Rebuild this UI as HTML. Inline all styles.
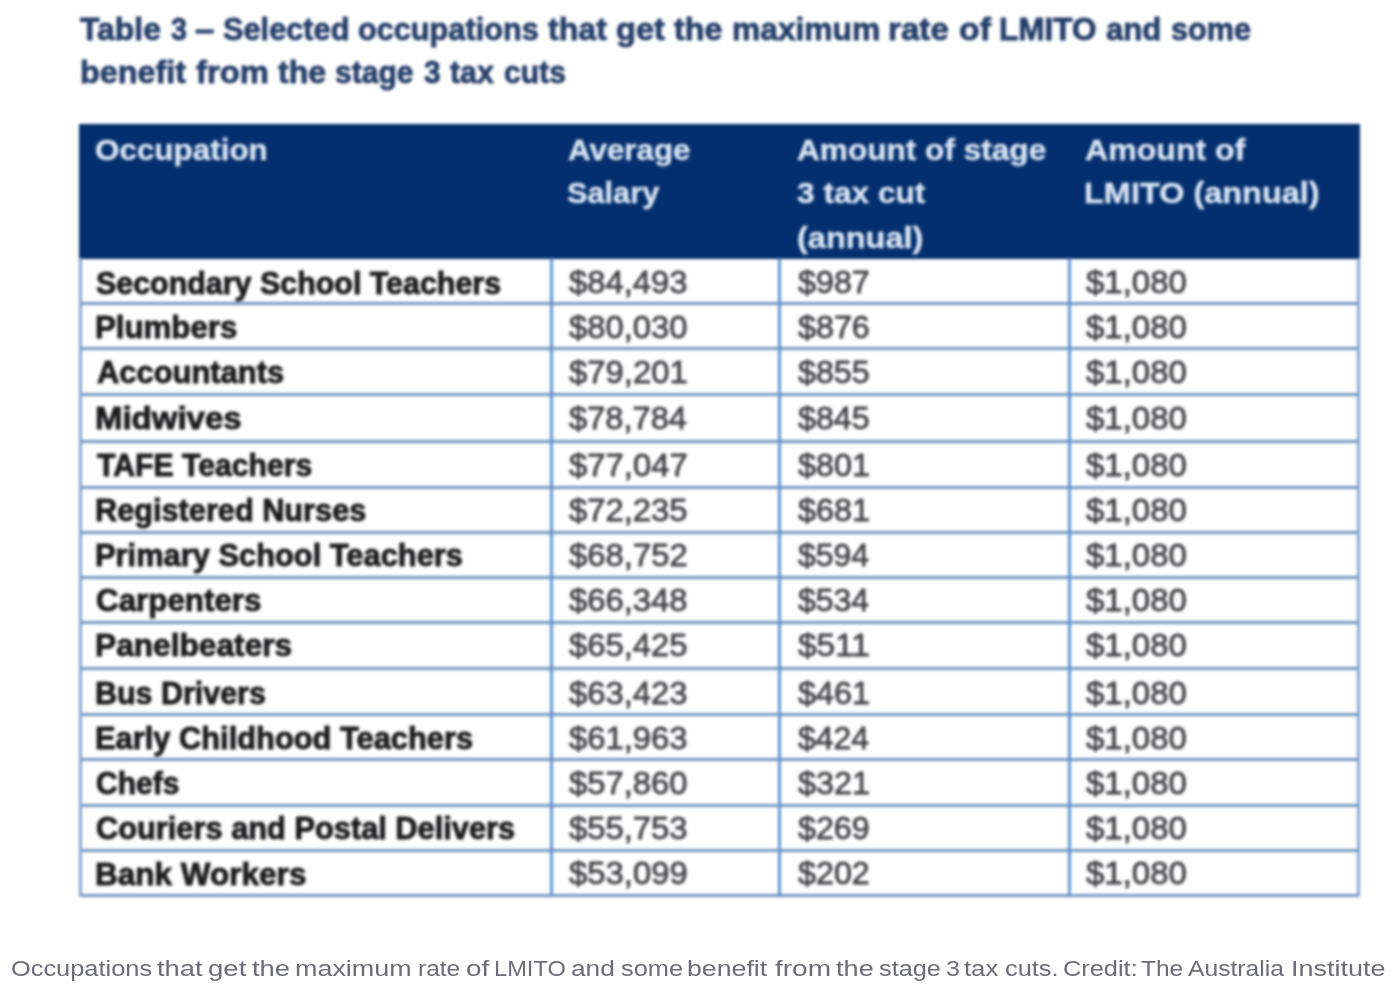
<!DOCTYPE html>
<html><head><meta charset="utf-8"><title>Table 3</title>
<style>
html,body{margin:0;padding:0;background:#fff;}
body{width:1400px;height:990px;position:relative;overflow:hidden;font-family:"Liberation Sans",sans-serif;}
#img{position:absolute;left:0;top:0;width:1400px;height:925px;filter:blur(1.4px);}
#cap{position:absolute;left:0;top:0;width:1400px;height:990px;}
.t{position:absolute;white-space:nowrap;line-height:1;transform-origin:0 0;margin:0;padding:0;}
.b{font-weight:bold;}
.hd{position:absolute;background:#032f6e;}
.ln{position:absolute;background:#6f93bd;}
.lv{position:absolute;background:#5f93d4;}
.lo{position:absolute;background:#82a4cf;}
</style></head><body>
<div id="img"><div class="hd" style="left:78.7px;top:124.0px;width:1281.1px;height:135.0px"></div>
<div class="ln" style="left:78.7px;top:301.5px;width:1281.1px;height:3.0px"></div>
<div class="ln" style="left:78.7px;top:347.0px;width:1281.1px;height:3.0px"></div>
<div class="ln" style="left:78.7px;top:392.5px;width:1281.1px;height:3.0px"></div>
<div class="ln" style="left:78.7px;top:439.5px;width:1281.1px;height:3.0px"></div>
<div class="ln" style="left:78.7px;top:485.5px;width:1281.1px;height:3.0px"></div>
<div class="ln" style="left:78.7px;top:530.5px;width:1281.1px;height:3.0px"></div>
<div class="ln" style="left:78.7px;top:575.5px;width:1281.1px;height:3.0px"></div>
<div class="ln" style="left:78.7px;top:620.5px;width:1281.1px;height:3.0px"></div>
<div class="ln" style="left:78.7px;top:667.0px;width:1281.1px;height:3.0px"></div>
<div class="ln" style="left:78.7px;top:713.0px;width:1281.1px;height:3.0px"></div>
<div class="ln" style="left:78.7px;top:758.0px;width:1281.1px;height:3.0px"></div>
<div class="ln" style="left:78.7px;top:803.5px;width:1281.1px;height:3.0px"></div>
<div class="ln" style="left:78.7px;top:848.8px;width:1281.1px;height:3.0px"></div>
<div class="ln" style="left:78.7px;top:893.8px;width:1281.1px;height:3.0px"></div>
<div class="lo" style="left:78.7px;top:258.0px;width:3.0px;height:638.8px"></div>
<div class="lv" style="left:550.2px;top:258.0px;width:3.0px;height:638.8px"></div>
<div class="lv" style="left:778.3px;top:258.0px;width:3.0px;height:638.8px"></div>
<div class="lv" style="left:1068.1px;top:258.0px;width:3.0px;height:638.8px"></div>
<div class="lo" style="left:1356.8px;top:258.0px;width:3.0px;height:638.8px"></div>
<div class="t b" id="t0" style="left:79.78px;top:13.76px;font-size:31.00px;color:#253d68;-webkit-text-stroke-width:0.80px;transform:scaleX(1.0294)">Table</div>
<div class="t b" id="t1" style="left:170.92px;top:13.76px;font-size:31.00px;color:#253d68;-webkit-text-stroke-width:0.80px;transform:scaleX(0.9266)">3</div>
<div class="t b" id="t2" style="left:195.40px;top:13.76px;font-size:31.00px;color:#253d68;-webkit-text-stroke-width:0.80px;transform:scaleX(1.1211)">–</div>
<div class="t b" id="t3" style="left:223.44px;top:13.76px;font-size:31.00px;color:#253d68;-webkit-text-stroke-width:0.80px;transform:scaleX(0.9913)">Selected</div>
<div class="t b" id="t4" style="left:357.87px;top:13.76px;font-size:31.00px;color:#253d68;-webkit-text-stroke-width:0.80px;transform:scaleX(0.9898)">occupations</div>
<div class="t b" id="t5" style="left:547.69px;top:13.76px;font-size:31.00px;color:#253d68;-webkit-text-stroke-width:0.80px;transform:scaleX(1.0370)">that</div>
<div class="t b" id="t6" style="left:615.66px;top:13.76px;font-size:31.00px;color:#253d68;-webkit-text-stroke-width:0.80px;transform:scaleX(1.0535)">get</div>
<div class="t b" id="t7" style="left:673.89px;top:13.76px;font-size:31.00px;color:#253d68;-webkit-text-stroke-width:0.80px;transform:scaleX(1.0387)">the</div>
<div class="t b" id="t8" style="left:732.16px;top:13.76px;font-size:31.00px;color:#253d68;-webkit-text-stroke-width:0.80px;transform:scaleX(1.0240)">maximum</div>
<div class="t b" id="t9" style="left:888.47px;top:13.76px;font-size:31.00px;color:#253d68;-webkit-text-stroke-width:0.80px;transform:scaleX(1.0698)">rate</div>
<div class="t b" id="t10" style="left:958.92px;top:13.76px;font-size:31.00px;color:#253d68;-webkit-text-stroke-width:0.80px;transform:scaleX(1.0905)">of</div>
<div class="t b" id="t11" style="left:999.18px;top:13.76px;font-size:31.00px;color:#253d68;-webkit-text-stroke-width:0.80px;transform:scaleX(1.0163)">LMITO</div>
<div class="t b" id="t12" style="left:1105.59px;top:13.76px;font-size:31.00px;color:#253d68;-webkit-text-stroke-width:0.80px;transform:scaleX(1.0045)">and</div>
<div class="t b" id="t13" style="left:1171.01px;top:13.76px;font-size:31.00px;color:#253d68;-webkit-text-stroke-width:0.80px;transform:scaleX(0.9876)">some</div>
<div class="t b" id="t14" style="left:80.06px;top:56.76px;font-size:31.00px;color:#253d68;-webkit-text-stroke-width:0.80px;transform:scaleX(1.0421)">benefit</div>
<div class="t b" id="t15" style="left:195.65px;top:56.76px;font-size:31.00px;color:#253d68;-webkit-text-stroke-width:0.80px;transform:scaleX(1.0571)">from</div>
<div class="t b" id="t16" style="left:277.68px;top:56.76px;font-size:31.00px;color:#253d68;-webkit-text-stroke-width:0.80px;transform:scaleX(1.0328)">the</div>
<div class="t b" id="t17" style="left:334.86px;top:56.76px;font-size:31.00px;color:#253d68;-webkit-text-stroke-width:0.80px;transform:scaleX(0.9693)">stage</div>
<div class="t b" id="t18" style="left:423.74px;top:56.76px;font-size:31.00px;color:#253d68;-webkit-text-stroke-width:0.80px;transform:scaleX(0.9647)">3</div>
<div class="t b" id="t19" style="left:449.66px;top:56.76px;font-size:31.00px;color:#253d68;-webkit-text-stroke-width:0.80px;transform:scaleX(0.9803)">tax</div>
<div class="t b" id="t20" style="left:503.69px;top:56.76px;font-size:31.00px;color:#253d68;-webkit-text-stroke-width:0.80px;transform:scaleX(0.9717)">cuts</div>
<div class="t b" id="t21" style="left:95.29px;top:135.03px;font-size:29.50px;color:#d9e5f5;-webkit-text-stroke-width:0.40px;transform:scaleX(1.0647)">Occupation</div>
<div class="t b" id="t22" style="left:567.91px;top:135.03px;font-size:29.50px;color:#d9e5f5;-webkit-text-stroke-width:0.40px;transform:scaleX(1.0625)">Average</div>
<div class="t b" id="t23" style="left:567.38px;top:178.03px;font-size:29.50px;color:#d9e5f5;-webkit-text-stroke-width:0.40px;transform:scaleX(1.0416)">Salary</div>
<div class="t b" id="t24" style="left:796.87px;top:135.03px;font-size:29.50px;color:#d9e5f5;-webkit-text-stroke-width:0.40px;transform:scaleX(1.0710)">Amount of stage</div>
<div class="t b" id="t25" style="left:797.31px;top:178.03px;font-size:29.50px;color:#d9e5f5;-webkit-text-stroke-width:0.40px;transform:scaleX(1.0724)">3 tax cut</div>
<div class="t b" id="t26" style="left:796.65px;top:223.03px;font-size:29.50px;color:#d9e5f5;-webkit-text-stroke-width:0.40px;transform:scaleX(1.1015)">(annual)</div>
<div class="t b" id="t27" style="left:1084.84px;top:135.03px;font-size:29.50px;color:#d9e5f5;-webkit-text-stroke-width:0.40px;transform:scaleX(1.0874)">Amount of</div>
<div class="t b" id="t28" style="left:1083.60px;top:178.03px;font-size:29.50px;color:#d9e5f5;-webkit-text-stroke-width:0.40px;transform:scaleX(1.1006)">LMITO (annual)</div>
<div class="t b" id="t29" style="left:96.44px;top:267.58px;font-size:30.50px;color:#1b1b1d;-webkit-text-stroke-width:0.90px;transform:scaleX(0.9971)">Secondary School Teachers</div>
<div class="t" id="t30" style="left:568.63px;top:267.16px;font-size:31.00px;color:#454549;-webkit-text-stroke-width:0.80px;transform:scaleX(1.0582)">$84,493</div>
<div class="t" id="t31" style="left:797.64px;top:267.16px;font-size:31.00px;color:#454549;-webkit-text-stroke-width:0.80px;transform:scaleX(1.0407)">$987</div>
<div class="t" id="t32" style="left:1085.82px;top:267.16px;font-size:31.00px;color:#454549;-webkit-text-stroke-width:0.80px;transform:scaleX(1.0636)">$1,080</div>
<div class="t b" id="t33" style="left:95.11px;top:312.18px;font-size:30.50px;color:#1b1b1d;-webkit-text-stroke-width:0.90px;transform:scaleX(1.0242)">Plumbers</div>
<div class="t" id="t34" style="left:568.63px;top:311.76px;font-size:31.00px;color:#454549;-webkit-text-stroke-width:0.80px;transform:scaleX(1.0568)">$80,030</div>
<div class="t" id="t35" style="left:797.63px;top:311.76px;font-size:31.00px;color:#454549;-webkit-text-stroke-width:0.80px;transform:scaleX(1.0406)">$876</div>
<div class="t" id="t36" style="left:1085.82px;top:311.76px;font-size:31.00px;color:#454549;-webkit-text-stroke-width:0.80px;transform:scaleX(1.0636)">$1,080</div>
<div class="t b" id="t37" style="left:96.64px;top:357.18px;font-size:30.50px;color:#1b1b1d;-webkit-text-stroke-width:0.90px;transform:scaleX(1.0132)">Accountants</div>
<div class="t" id="t38" style="left:568.63px;top:356.76px;font-size:31.00px;color:#454549;-webkit-text-stroke-width:0.80px;transform:scaleX(1.0598)">$79,201</div>
<div class="t" id="t39" style="left:797.64px;top:356.76px;font-size:31.00px;color:#454549;-webkit-text-stroke-width:0.80px;transform:scaleX(1.0387)">$855</div>
<div class="t" id="t40" style="left:1085.82px;top:356.76px;font-size:31.00px;color:#454549;-webkit-text-stroke-width:0.80px;transform:scaleX(1.0636)">$1,080</div>
<div class="t b" id="t41" style="left:94.87px;top:402.98px;font-size:30.50px;color:#1b1b1d;-webkit-text-stroke-width:0.90px;transform:scaleX(1.0808)">Midwives</div>
<div class="t" id="t42" style="left:568.64px;top:402.56px;font-size:31.00px;color:#454549;-webkit-text-stroke-width:0.80px;transform:scaleX(1.0531)">$78,784</div>
<div class="t" id="t43" style="left:797.64px;top:402.56px;font-size:31.00px;color:#454549;-webkit-text-stroke-width:0.80px;transform:scaleX(1.0387)">$845</div>
<div class="t" id="t44" style="left:1085.82px;top:402.56px;font-size:31.00px;color:#454549;-webkit-text-stroke-width:0.80px;transform:scaleX(1.0636)">$1,080</div>
<div class="t b" id="t45" style="left:96.80px;top:450.18px;font-size:30.50px;color:#1b1b1d;-webkit-text-stroke-width:0.90px;transform:scaleX(0.9902)">TAFE Teachers</div>
<div class="t" id="t46" style="left:568.63px;top:449.76px;font-size:31.00px;color:#454549;-webkit-text-stroke-width:0.80px;transform:scaleX(1.0587)">$77,047</div>
<div class="t" id="t47" style="left:797.63px;top:449.76px;font-size:31.00px;color:#454549;-webkit-text-stroke-width:0.80px;transform:scaleX(1.0420)">$801</div>
<div class="t" id="t48" style="left:1085.82px;top:449.76px;font-size:31.00px;color:#454549;-webkit-text-stroke-width:0.80px;transform:scaleX(1.0636)">$1,080</div>
<div class="t b" id="t49" style="left:95.23px;top:495.18px;font-size:30.50px;color:#1b1b1d;-webkit-text-stroke-width:0.90px;transform:scaleX(1.0065)">Registered Nurses</div>
<div class="t" id="t50" style="left:568.63px;top:494.76px;font-size:31.00px;color:#454549;-webkit-text-stroke-width:0.80px;transform:scaleX(1.0581)">$72,235</div>
<div class="t" id="t51" style="left:797.63px;top:494.76px;font-size:31.00px;color:#454549;-webkit-text-stroke-width:0.80px;transform:scaleX(1.0420)">$681</div>
<div class="t" id="t52" style="left:1085.82px;top:494.76px;font-size:31.00px;color:#454549;-webkit-text-stroke-width:0.80px;transform:scaleX(1.0636)">$1,080</div>
<div class="t b" id="t53" style="left:95.21px;top:540.18px;font-size:30.50px;color:#1b1b1d;-webkit-text-stroke-width:0.90px;transform:scaleX(1.0112)">Primary School Teachers</div>
<div class="t" id="t54" style="left:568.63px;top:539.76px;font-size:31.00px;color:#454549;-webkit-text-stroke-width:0.80px;transform:scaleX(1.0587)">$68,752</div>
<div class="t" id="t55" style="left:797.64px;top:539.76px;font-size:31.00px;color:#454549;-webkit-text-stroke-width:0.80px;transform:scaleX(1.0306)">$594</div>
<div class="t" id="t56" style="left:1085.82px;top:539.76px;font-size:31.00px;color:#454549;-webkit-text-stroke-width:0.80px;transform:scaleX(1.0636)">$1,080</div>
<div class="t b" id="t57" style="left:95.69px;top:585.18px;font-size:30.50px;color:#1b1b1d;-webkit-text-stroke-width:0.90px;transform:scaleX(1.0277)">Carpenters</div>
<div class="t" id="t58" style="left:568.63px;top:584.76px;font-size:31.00px;color:#454549;-webkit-text-stroke-width:0.80px;transform:scaleX(1.0580)">$66,348</div>
<div class="t" id="t59" style="left:797.64px;top:584.76px;font-size:31.00px;color:#454549;-webkit-text-stroke-width:0.80px;transform:scaleX(1.0306)">$534</div>
<div class="t" id="t60" style="left:1085.82px;top:584.76px;font-size:31.00px;color:#454549;-webkit-text-stroke-width:0.80px;transform:scaleX(1.0636)">$1,080</div>
<div class="t b" id="t61" style="left:95.05px;top:630.18px;font-size:30.50px;color:#1b1b1d;-webkit-text-stroke-width:0.90px;transform:scaleX(1.0385)">Panelbeaters</div>
<div class="t" id="t62" style="left:568.63px;top:629.76px;font-size:31.00px;color:#454549;-webkit-text-stroke-width:0.80px;transform:scaleX(1.0581)">$65,425</div>
<div class="t" id="t63" style="left:797.63px;top:629.76px;font-size:31.00px;color:#454549;-webkit-text-stroke-width:0.80px;transform:scaleX(1.0769)">$511</div>
<div class="t" id="t64" style="left:1085.82px;top:629.76px;font-size:31.00px;color:#454549;-webkit-text-stroke-width:0.80px;transform:scaleX(1.0636)">$1,080</div>
<div class="t b" id="t65" style="left:95.24px;top:678.18px;font-size:30.50px;color:#1b1b1d;-webkit-text-stroke-width:0.90px;transform:scaleX(0.9981)">Bus Drivers</div>
<div class="t" id="t66" style="left:568.63px;top:677.76px;font-size:31.00px;color:#454549;-webkit-text-stroke-width:0.80px;transform:scaleX(1.0582)">$63,423</div>
<div class="t" id="t67" style="left:797.63px;top:677.76px;font-size:31.00px;color:#454549;-webkit-text-stroke-width:0.80px;transform:scaleX(1.0420)">$461</div>
<div class="t" id="t68" style="left:1085.82px;top:677.76px;font-size:31.00px;color:#454549;-webkit-text-stroke-width:0.80px;transform:scaleX(1.0636)">$1,080</div>
<div class="t b" id="t69" style="left:95.23px;top:723.18px;font-size:30.50px;color:#1b1b1d;-webkit-text-stroke-width:0.90px;transform:scaleX(1.0110)">Early Childhood Teachers</div>
<div class="t" id="t70" style="left:568.63px;top:722.76px;font-size:31.00px;color:#454549;-webkit-text-stroke-width:0.80px;transform:scaleX(1.0582)">$61,963</div>
<div class="t" id="t71" style="left:797.64px;top:722.76px;font-size:31.00px;color:#454549;-webkit-text-stroke-width:0.80px;transform:scaleX(1.0306)">$424</div>
<div class="t" id="t72" style="left:1085.82px;top:722.76px;font-size:31.00px;color:#454549;-webkit-text-stroke-width:0.80px;transform:scaleX(1.0636)">$1,080</div>
<div class="t b" id="t73" style="left:95.72px;top:768.38px;font-size:30.50px;color:#1b1b1d;-webkit-text-stroke-width:0.90px;transform:scaleX(0.9831)">Chefs</div>
<div class="t" id="t74" style="left:568.63px;top:767.96px;font-size:31.00px;color:#454549;-webkit-text-stroke-width:0.80px;transform:scaleX(1.0568)">$57,860</div>
<div class="t" id="t75" style="left:797.63px;top:767.96px;font-size:31.00px;color:#454549;-webkit-text-stroke-width:0.80px;transform:scaleX(1.0420)">$321</div>
<div class="t" id="t76" style="left:1085.82px;top:767.96px;font-size:31.00px;color:#454549;-webkit-text-stroke-width:0.80px;transform:scaleX(1.0636)">$1,080</div>
<div class="t b" id="t77" style="left:95.69px;top:813.38px;font-size:30.50px;color:#1b1b1d;-webkit-text-stroke-width:0.90px;transform:scaleX(1.0093)">Couriers and Postal Delivers</div>
<div class="t" id="t78" style="left:568.63px;top:812.96px;font-size:31.00px;color:#454549;-webkit-text-stroke-width:0.80px;transform:scaleX(1.0582)">$55,753</div>
<div class="t" id="t79" style="left:797.64px;top:812.96px;font-size:31.00px;color:#454549;-webkit-text-stroke-width:0.80px;transform:scaleX(1.0403)">$269</div>
<div class="t" id="t80" style="left:1085.82px;top:812.96px;font-size:31.00px;color:#454549;-webkit-text-stroke-width:0.80px;transform:scaleX(1.0636)">$1,080</div>
<div class="t b" id="t81" style="left:95.09px;top:858.78px;font-size:30.50px;color:#1b1b1d;-webkit-text-stroke-width:0.90px;transform:scaleX(1.0336)">Bank Workers</div>
<div class="t" id="t82" style="left:568.63px;top:858.36px;font-size:31.00px;color:#454549;-webkit-text-stroke-width:0.80px;transform:scaleX(1.0598)">$53,099</div>
<div class="t" id="t83" style="left:797.64px;top:858.36px;font-size:31.00px;color:#454549;-webkit-text-stroke-width:0.80px;transform:scaleX(1.0407)">$202</div>
<div class="t" id="t84" style="left:1085.82px;top:858.36px;font-size:31.00px;color:#454549;-webkit-text-stroke-width:0.80px;transform:scaleX(1.0636)">$1,080</div></div>
<div id="cap"><div class="t" id="t85" style="left:10.53px;top:958.25px;font-size:21.80px;color:#6c6d76;transform:scaleX(1.1644)">Occupations</div>
<div class="t" id="t86" style="left:156.87px;top:958.25px;font-size:21.80px;color:#6c6d76;transform:scaleX(1.2544)">that</div>
<div class="t" id="t87" style="left:208.40px;top:958.25px;font-size:21.80px;color:#6c6d76;transform:scaleX(1.2636)">get</div>
<div class="t" id="t88" style="left:252.24px;top:958.25px;font-size:21.80px;color:#6c6d76;transform:scaleX(1.2545)">the</div>
<div class="t" id="t89" style="left:295.23px;top:958.25px;font-size:21.80px;color:#6c6d76;transform:scaleX(1.2352)">maximum</div>
<div class="t" id="t90" style="left:418.38px;top:958.25px;font-size:21.80px;color:#6c6d76;transform:scaleX(1.1239)">rate</div>
<div class="t" id="t91" style="left:466.21px;top:958.25px;font-size:21.80px;color:#6c6d76;transform:scaleX(1.2760)">of</div>
<div class="t" id="t92" style="left:493.90px;top:958.25px;font-size:21.80px;color:#6c6d76;transform:scaleX(1.0842)">LMITO</div>
<div class="t" id="t93" style="left:571.31px;top:958.25px;font-size:21.80px;color:#6c6d76;transform:scaleX(1.2061)">and</div>
<div class="t" id="t94" style="left:620.56px;top:958.25px;font-size:21.80px;color:#6c6d76;transform:scaleX(1.1637)">some</div>
<div class="t" id="t95" style="left:687.49px;top:958.25px;font-size:21.80px;color:#6c6d76;transform:scaleX(1.2257)">benefit</div>
<div class="t" id="t96" style="left:774.66px;top:958.25px;font-size:21.80px;color:#6c6d76;transform:scaleX(1.2857)">from</div>
<div class="t" id="t97" style="left:835.65px;top:958.25px;font-size:21.80px;color:#6c6d76;transform:scaleX(1.2453)">the</div>
<div class="t" id="t98" style="left:878.76px;top:958.25px;font-size:21.80px;color:#6c6d76;transform:scaleX(1.1602)">stage</div>
<div class="t" id="t99" style="left:945.56px;top:958.25px;font-size:21.80px;color:#6c6d76;transform:scaleX(1.1496)">3</div>
<div class="t" id="t100" style="left:964.30px;top:958.25px;font-size:21.80px;color:#6c6d76;transform:scaleX(1.1765)">tax</div>
<div class="t" id="t101" style="left:1004.57px;top:958.25px;font-size:21.80px;color:#6c6d76;transform:scaleX(1.1636)">cuts.</div>
<div class="t" id="t102" style="left:1062.71px;top:958.25px;font-size:21.80px;color:#6c6d76;transform:scaleX(1.1637)">Credit:</div>
<div class="t" id="t103" style="left:1140.69px;top:958.25px;font-size:21.80px;color:#6c6d76;transform:scaleX(1.1241)">The</div>
<div class="t" id="t104" style="left:1188.37px;top:958.25px;font-size:21.80px;color:#6c6d76;transform:scaleX(1.1309)">Australia</div>
<div class="t" id="t105" style="left:1291.42px;top:958.25px;font-size:21.80px;color:#6c6d76;transform:scaleX(1.2378)">Institute</div></div>
</body></html>
